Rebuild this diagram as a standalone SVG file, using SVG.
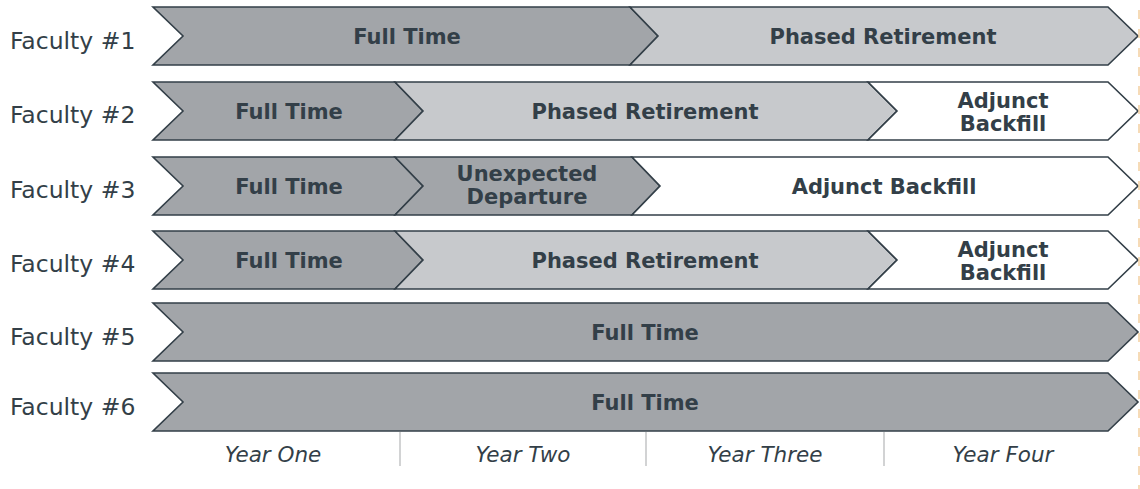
<svg xmlns="http://www.w3.org/2000/svg" width="1140" height="489" viewBox="0 0 1140 489">
  <style>
    .seg { stroke: #333f48; stroke-width: 1.6; stroke-linejoin: miter; }
    .ft { fill: #a2a5a9; }
    .pr { fill: #c7c9cc; }
    .ab { fill: #ffffff; }
    .lbl { font-family: "DejaVu Sans", Verdana, sans-serif; font-weight: bold; font-size: 21px; fill: #333f48; text-anchor: middle; }
    .row { font-family: "DejaVu Sans", Verdana, sans-serif; font-size: 23.5px; fill: #333f48; }
    .yr { font-family: "DejaVu Sans", Verdana, sans-serif; font-style: italic; font-size: 21.5px; fill: #333f48; text-anchor: middle; }
    .div { stroke: #d2d3d4; stroke-width: 2; }
  </style>

  <!-- Faculty #1 -->
  <g id="faculty1">
    <text class="row" x="10" y="49">Faculty #1</text>
    <polygon class="seg ft" points="153,7 630,7 658,36 630,65 153,65 183,36"/>
    <polygon class="seg pr" points="630,7 1108,7 1138,36 1108,65 630,65 658,36"/>
    <text class="lbl" x="407" y="44">Full Time</text>
    <text class="lbl" x="883" y="44">Phased Retirement</text>
  </g>

  <!-- Faculty #2 -->
  <g id="faculty2">
    <text class="row" x="10" y="123">Faculty #2</text>
    <polygon class="seg ft" points="153,82 395,82 423,111 395,140 153,140 183,111"/>
    <polygon class="seg pr" points="395,82 868,82 897,111 868,140 395,140 423,111"/>
    <polygon class="seg ab" points="868,82 1108,82 1138,111 1108,140 868,140 897,111"/>
    <text class="lbl" x="289" y="119">Full Time</text>
    <text class="lbl" x="645" y="119">Phased Retirement</text>
    <text class="lbl" x="1003" y="108">Adjunct</text>
    <text class="lbl" x="1003" y="131">Backfill</text>
  </g>

  <!-- Faculty #3 -->
  <g id="faculty3">
    <text class="row" x="10" y="198">Faculty #3</text>
    <polygon class="seg ft" points="153,157 395,157 423,186 395,215 153,215 183,186"/>
    <polygon class="seg ft" points="395,157 632,157 660,186 632,215 395,215 423,186"/>
    <polygon class="seg ab" points="632,157 1108,157 1138,186 1108,215 632,215 660,186"/>
    <text class="lbl" x="289" y="194">Full Time</text>
    <text class="lbl" x="527" y="181">Unexpected</text>
    <text class="lbl" x="527" y="204">Departure</text>
    <text class="lbl" x="884" y="194">Adjunct Backfill</text>
  </g>

  <!-- Faculty #4 -->
  <g id="faculty4">
    <text class="row" x="10" y="272">Faculty #4</text>
    <polygon class="seg ft" points="153,231 395,231 423,260 395,289 153,289 183,260"/>
    <polygon class="seg pr" points="395,231 868,231 897,260 868,289 395,289 423,260"/>
    <polygon class="seg ab" points="868,231 1108,231 1138,260 1108,289 868,289 897,260"/>
    <text class="lbl" x="289" y="268">Full Time</text>
    <text class="lbl" x="645" y="268">Phased Retirement</text>
    <text class="lbl" x="1003" y="257">Adjunct</text>
    <text class="lbl" x="1003" y="280">Backfill</text>
  </g>

  <!-- Faculty #5 -->
  <g id="faculty5">
    <text class="row" x="10" y="345">Faculty #5</text>
    <polygon class="seg ft" points="153,303 1108,303 1138,332 1108,361 153,361 183,332"/>
    <text class="lbl" x="645" y="340">Full Time</text>
  </g>

  <!-- Faculty #6 -->
  <g id="faculty6">
    <text class="row" x="10" y="415">Faculty #6</text>
    <polygon class="seg ft" points="153,373 1108,373 1138,402 1108,431 153,431 183,402"/>
    <text class="lbl" x="645" y="410">Full Time</text>
  </g>

  <!-- year axis -->
  <g id="years">
    <line class="div" x1="400" y1="432" x2="400" y2="466"/>
    <line class="div" x1="646" y1="432" x2="646" y2="466"/>
    <line class="div" x1="884" y1="432" x2="884" y2="466"/>
    <text class="yr" x="273" y="462">Year One</text>
    <text class="yr" x="523" y="462">Year Two</text>
    <text class="yr" x="765" y="462">Year Three</text>
    <text class="yr" x="1003" y="462">Year Four</text>
  </g>

  <!-- right edge guide -->
  <line x1="1139" y1="10" x2="1139" y2="489" stroke="#f3cfa0" stroke-width="1.5" stroke-dasharray="9 10"/>
</svg>
